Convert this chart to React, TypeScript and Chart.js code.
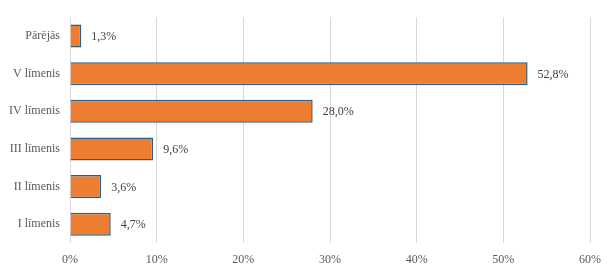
import React, { useEffect, useRef } from "react";
import { Chart, registerables } from "chart.js";

Chart.register(...registerables);

const categories = ["Pārējās", "V līmenis", "IV līmenis", "III līmenis", "II līmenis", "I līmenis"];
const values = [1.3, 52.8, 28.0, 9.6, 3.6, 4.7];
const xTicks = [0, 10, 20, 30, 40, 50, 60];

const FONT = "'Liberation Serif', 'Times New Roman', serif";

const valueLabels = {
  id: "valueLabels",
  afterDatasetsDraw(chart: any) {
    const ctx = chart.ctx;
    const meta = chart.getDatasetMeta(0);
    ctx.save();
    ctx.font = `12px ${FONT}`;
    ctx.fillStyle = "#404040";
    ctx.textAlign = "left";
    ctx.textBaseline = "middle";
    meta.data.forEach((bar: any, i: number) => {
      const txt = values[i].toFixed(1).replace(".", ",") + "%";
      ctx.fillText(txt, bar.x + 10, bar.y + 1);
    });
    ctx.restore();
  },
};

export default function App() {
  const ref = useRef<HTMLCanvasElement>(null);
  useEffect(() => {
    if (!ref.current) return;
    const chart = new Chart(ref.current, {
      type: "bar",
      data: {
        labels: categories,
        datasets: [
          {
            data: values,
            backgroundColor: "#ED7D31",
            borderColor: "#2E5F80",
            borderWidth: 1.5,
            barPercentage: 0.61,
            categoryPercentage: 1,
          },
        ],
      },
      options: {
        indexAxis: "y",
        animation: false,
        responsive: false,
        maintainAspectRatio: false,
        layout: { padding: { top: 16, right: 26, left: 0, bottom: 0 } },
        plugins: { legend: { display: false }, tooltip: { enabled: false } },
        scales: {
          x: {
            min: 0,
            max: 60,
            afterFit: (s: any) => { s.height = 32; },
            afterBuildTicks: (s: any) => { s.ticks = xTicks.map((v) => ({ value: v })); },
            ticks: {
              callback: (v: any) => v + "%",
              color: "#595959",
              font: { family: FONT, size: 12 },
              padding: 10,
              maxRotation: 0,
            },
            grid: { color: "#D9D9D9", lineWidth: 1, drawTicks: false },
            border: { display: false },
          },
          y: {
            afterFit: (s: any) => { s.width = 70; },
            ticks: {
              color: "#595959",
              font: { family: FONT, size: 12 },
              padding: 10,
            },
            grid: { display: false, drawTicks: false },
            border: { display: false },
          },
        },
      },
      plugins: [valueLabels],
    });
    return () => chart.destroy();
  }, []);
  return (
    <div style={{ position: "fixed", left: 0, top: 0, width: 616, height: 275, background: "#fff" }}>
      <canvas ref={ref} width={616} height={275} style={{ width: 616, height: 275 }} />
    </div>
  );
}
